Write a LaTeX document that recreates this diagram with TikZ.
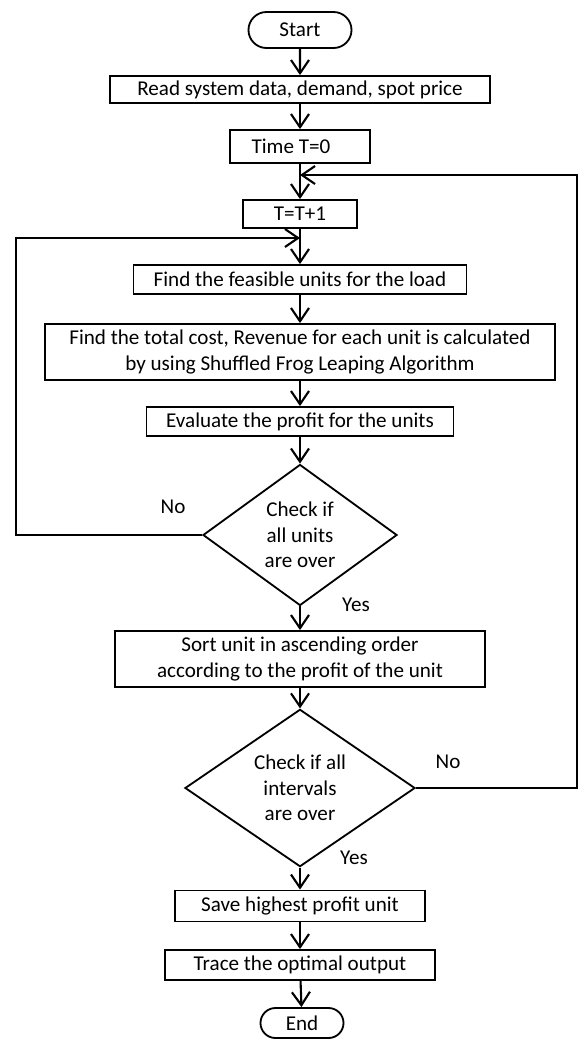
\documentclass[tikz,border=0pt]{standalone}
\usepackage{fontspec}
\setmainfont{Carlito}
\usetikzlibrary{shapes.geometric,shapes.misc,arrows.meta}
\tikzset{
	every node/.style={font=\fontsize{15}{18}\selectfont},
	procbox/.style={draw, line width=1.3pt, inner sep=0pt, align=center},
	termbox/.style={rounded rectangle, draw, line width=1.3pt, inner sep=0pt},
	decbox/.style={diamond, draw, line width=1.3pt, inner sep=0pt, align=center},
	flow/.style={line width=1.5pt, -{Straight Barb[length=0.33cm,width=0.45cm]}}
}
\begin{document}
\begin{tikzpicture}[x=0.025cm,y=-0.025cm]
	\useasboundingbox (0,0) rectangle (579,1040);
	\node[termbox, minimum width=2.575cm, minimum height=0.9cm] (start) at (300,30) {Start};
	\node[procbox, minimum width=9.5cm, minimum height=0.675cm] (read) at (300,89.5) {Read system data, demand, spot price};
	\node[procbox, minimum width=3.5cm, minimum height=0.825cm] (time) at (300,146.5) {\hspace*{-0.45cm}Time T=0};
	\node[procbox, minimum width=2.85cm, minimum height=0.7cm] (tinc) at (300,214) {T=T+1};
	\node[procbox, minimum width=8.325cm, minimum height=0.725cm] (feas) at (300,279.5) {Find the feasible units for the load};
	\node[procbox, minimum width=12.75cm, minimum height=1.4cm] (cost) at (300,352) {Find the total cost, Revenue for each unit is calculated\\by using Shuffled Frog Leaping Algorithm};
	\node[procbox, minimum width=7.675cm, minimum height=0.725cm] (eval) at (300,421.5) {Evaluate the profit for the units};
	\node[decbox, minimum width=4.85cm, minimum height=3.525cm] (units) at (300,535) {Check if\\all units\\are over};
	\node[procbox, minimum width=9.25cm, minimum height=1.4cm] (sort) at (300,659) {Sort unit in ascending order\\according to the profit of the unit};
	\node[decbox, minimum width=5.75cm, minimum height=3.675cm] (ivl) at (300,788) {Check if all\\intervals\\are over};
	\node[procbox, minimum width=6.25cm, minimum height=0.775cm] (save) at (300,906) {Save highest profit unit};
	\node[procbox, minimum width=6.75cm, minimum height=0.75cm] (trace) at (300,965) {Trace the optimal output};
	\node[termbox, minimum width=2.075cm, minimum height=0.75cm] (end) at (302,1023) {End};
	% decision labels
	\node (no1) at (173,507) {No};
	\node (yes1) at (356,605) {Yes};
	\node (no2) at (448,762) {No};
	\node (yes2) at (354,858) {Yes};
	% main flow
	\foreach \a/\b in {start/read, read/time, time/tinc, tinc/feas, feas/cost, cost/eval, eval/units, units/sort, sort/ivl, ivl/save, save/trace, trace/end}
		\draw[flow] (\a) -- (\b);
	% loops back
	\coordinate (rtop) at (577,175);
	\coordinate (ltop) at (16,238);
	\draw[flow] (ivl.east) -| (rtop) -- (time.south |- rtop);
	\draw[flow] (units.west) -| (ltop) -- (tinc.south |- ltop);
\end{tikzpicture}
\end{document}
